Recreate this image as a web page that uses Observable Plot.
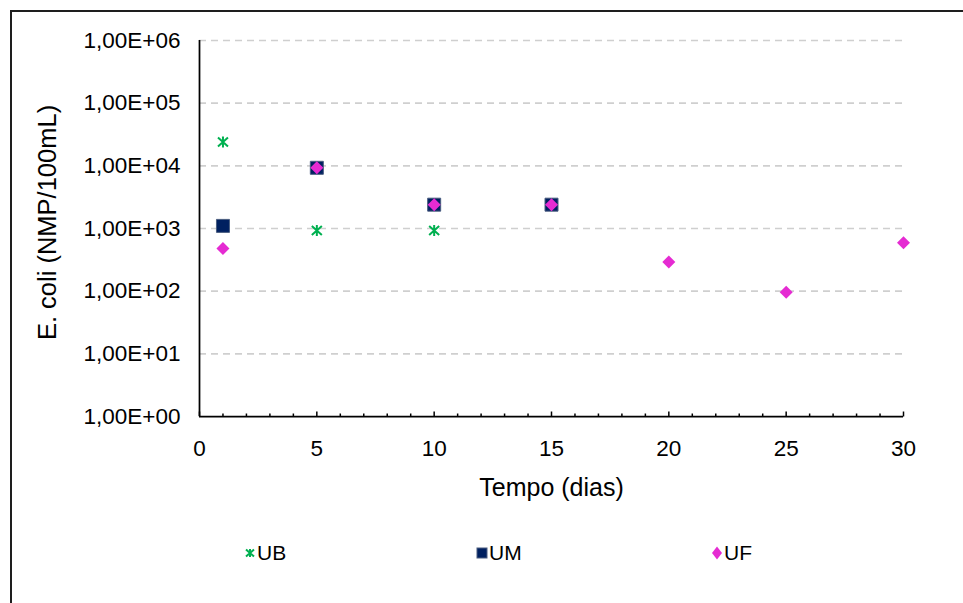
<!DOCTYPE html>
<html>
<head>
<meta charset="utf-8">
<script src="https://cdn.jsdelivr.net/npm/d3@7"></script>
<script src="https://cdn.jsdelivr.net/npm/@observablehq/plot@0.6"></script>
<style>
  html, body { margin: 0; padding: 0; background: #fff; overflow: hidden; width: 963px; height: 603px; }
  #frame { position: absolute; left: 10px; top: 10px; width: 2000px; height: 2000px;
           border-left: 2px solid #1e1e1e; border-top: 2px solid #1e1e1e; }
  #chart { position: absolute; left: 0; top: 0; }
  #legend { position: absolute; left: 0; top: 541px; width: 963px; height: 24px;
            font-family: "Liberation Sans", Arial, sans-serif; font-size: 21px; color: #000; }
  .item { position: absolute; top: 0; height: 24px; display: flex; align-items: center; }
  .item svg { margin-right: 1px; }
</style>
</head>
<body>
<div id="frame"></div>
<div id="chart"></div>
<div id="legend"></div>
<script>
// ---- data ----
const seriesNames = ["UB", "UM", "UF"];
const ubDays = [1, 5, 10];
const ubValues = [24000, 930, 930];
const umDays = [1, 5, 10, 15];
const umValues = [1100, 9300, 2400, 2400];
const ufDays = [1, 5, 10, 15, 20, 25, 30];
const ufValues = [480, 9300, 2400, 2400, 292, 96, 590];

const xTicks = [0, 5, 10, 15, 20, 25, 30];
const xMinorTicks = d3.range(0, 31);
const yTicks = [1, 10, 100, 1000, 10000, 100000, 1000000];
const yTickLabels = ["1,00E+00", "1,00E+01", "1,00E+02", "1,00E+03", "1,00E+04", "1,00E+05", "1,00E+06"];
const gridValues = [10, 100, 1000, 10000, 100000, 1000000];
const xTitle = "Tempo (dias)";
const yTitle = "E. coli (NMP/100mL)";

const colors = { UB: "#00b050", UM: "#002060", UF: "#e52bd2" };

const ub = ubDays.map((d, i) => ({ day: d, value: ubValues[i] }));
const um = umDays.map((d, i) => ({ day: d, value: umValues[i] }));
const uf = ufDays.map((d, i) => ({ day: d, value: ufValues[i] }));

// ---- custom symbols ----
const starSymbol = { draw(ctx) {
  ctx.moveTo(-5, -4.5); ctx.lineTo(5, 4.5);
  ctx.moveTo(-5, 4.5); ctx.lineTo(5, -4.5);
  ctx.moveTo(0, -5.5); ctx.lineTo(0, 5.5);
}};
const squareSymbol = { draw(ctx) { ctx.rect(-6.5, -6.5, 13, 13); } };
const diamondSymbol = { draw(ctx) {
  ctx.moveTo(0, -6.5); ctx.lineTo(6.5, 0); ctx.lineTo(0, 6.5); ctx.lineTo(-6.5, 0); ctx.closePath();
}};
const majorTick = { draw(ctx) { ctx.moveTo(0, 0); ctx.lineTo(0, -5); } };
const minorTick = { draw(ctx) { ctx.moveTo(0, 0); ctx.lineTo(0, -3); } };

const chart = Plot.plot({
  width: 963,
  height: 603,
  marginLeft: 199,
  marginRight: 60,
  marginTop: 40,
  marginBottom: 187,
  style: { fontFamily: "'Liberation Sans', Arial, sans-serif", background: "transparent", color: "#000" },
  x: { domain: [0, 30] },
  y: { type: "log", domain: [1, 1000000] },
  marks: [
    Plot.ruleY(gridValues, { stroke: "#cfcfcf", strokeWidth: 1.7, strokeDasharray: "7,5" }),
    Plot.ruleX([0], { stroke: "#000", strokeWidth: 1.75 }),
    Plot.ruleY([1], { stroke: "#000", strokeWidth: 1.75 }),
    Plot.dot(xMinorTicks.filter(d => d % 5 !== 0), { x: d => d, frameAnchor: "bottom", symbol: minorTick, fill: "none", stroke: "#000", strokeWidth: 1.5 }),
    Plot.dot(xTicks, { x: d => d, frameAnchor: "bottom", symbol: majorTick, fill: "none", stroke: "#000", strokeWidth: 1.5 }),
    Plot.axisY(yTicks, { tickSize: 0, tickPadding: 19, fontSize: 22.5, label: null,
      tickFormat: d => yTickLabels[yTicks.indexOf(d)] }),
    Plot.axisX(xTicks, { tickSize: 0, tickPadding: 24, fontSize: 22.5, label: null, tickFormat: d => String(d) }),
    Plot.text([xTitle], { text: d => d, frameAnchor: "bottom", dy: 71, fontSize: 25, lineAnchor: "middle", textAnchor: "middle" }),
    Plot.text([yTitle], { text: d => d, frameAnchor: "left", rotate: -90, dx: -152, dy: -6, fontSize: 25.5, lineAnchor: "middle", textAnchor: "middle" }),
    Plot.dot(ub, { x: "day", y: "value", symbol: starSymbol, fill: "none", stroke: colors.UB, strokeWidth: 2 }),
    Plot.dot(um, { x: "day", y: "value", symbol: squareSymbol, fill: colors.UM, stroke: "#4a5d80", strokeWidth: 1 }),
    Plot.dot(uf, { x: "day", y: "value", symbol: diamondSymbol, fill: colors.UF, stroke: "none" })
  ]
});
document.getElementById("chart").appendChild(chart);

// ---- legend ----
const legendPos = { UB: 244, UM: 476, UF: 711 };
const legendIcons = {
  UB: `<svg width="12" height="12" viewBox="-6 -6 12 12"><path d="M-4,-3.5L4,3.5M-4,3.5L4,-3.5M0,-4L0,4" stroke="${colors.UB}" stroke-width="2" fill="none"/></svg>`,
  UM: `<svg width="12" height="12" viewBox="-6 -6 12 12"><rect x="-5" y="-5" width="10" height="10" fill="${colors.UM}" stroke="#4a5d80" stroke-width="1"/></svg>`,
  UF: `<svg width="12" height="14" viewBox="-6 -7 12 14"><path d="M0,-6.5L5,0L0,6.5L-5,0Z" fill="${colors.UF}"/></svg>`
};
const legend = document.getElementById("legend");
seriesNames.forEach(name => {
  const el = document.createElement("div");
  el.className = "item";
  el.style.left = legendPos[name] + "px";
  el.innerHTML = legendIcons[name] + `<span>${name}</span>`;
  legend.appendChild(el);
});
</script>
</body>
</html>
